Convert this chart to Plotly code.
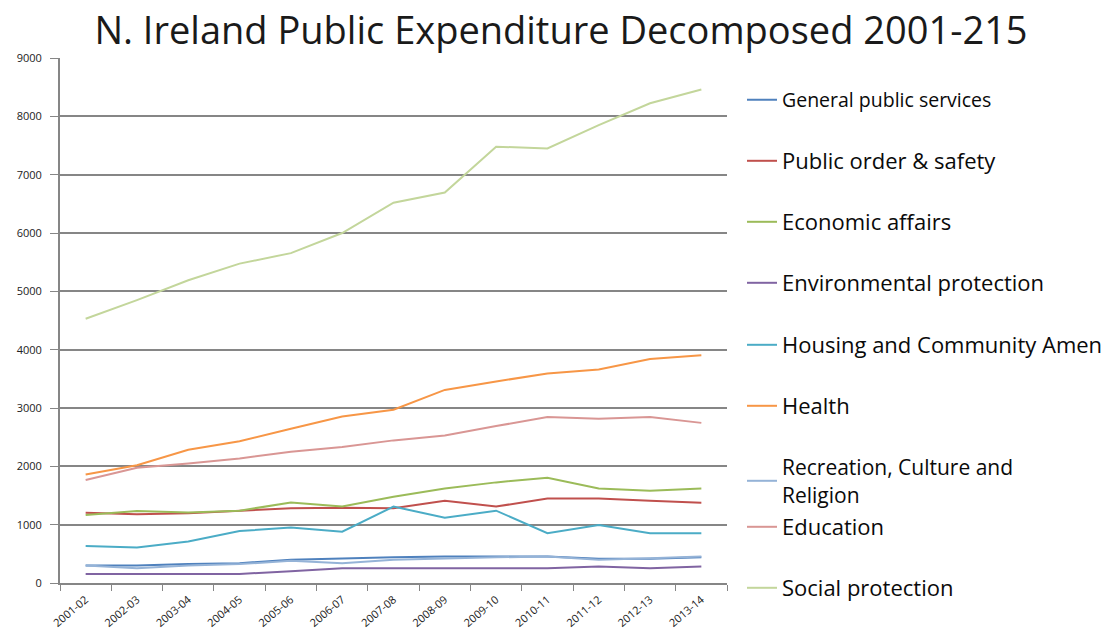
import plotly.graph_objects as go

years = ["2001-02", "2002-03", "2003-04", "2004-05", "2005-06", "2006-07", "2007-08",
         "2008-09", "2009-10", "2010-11", "2011-12", "2012-13", "2013-14"]

general_public = [300, 300, 325, 340, 400, 425, 440, 455, 455, 455, 415, 415, 440]
public_order = [1205, 1180, 1195, 1235, 1280, 1290, 1280, 1410, 1310, 1450, 1450, 1410, 1375]
economic = [1165, 1235, 1210, 1240, 1380, 1310, 1480, 1620, 1725, 1805, 1620, 1580, 1620]
environmental = [155, 155, 155, 155, 200, 255, 255, 255, 255, 255, 285, 255, 285]
housing = [635, 610, 710, 890, 950, 880, 1310, 1120, 1240, 855, 995, 855, 855]
health = [1860, 2020, 2285, 2430, 2645, 2855, 2970, 3310, 3455, 3590, 3660, 3840, 3905]
recreation = [300, 255, 300, 325, 380, 340, 400, 425, 440, 455, 400, 425, 455]
education = [1765, 1975, 2050, 2135, 2250, 2330, 2445, 2530, 2690, 2845, 2815, 2845, 2745]
social = [4530, 4850, 5190, 5475, 5655, 6000, 6520, 6695, 7480, 7450, 7850, 8225, 8460]

names = ["General public services", "Public order & safety", "Economic affairs",
         "Environmental protection", "Housing and Community Amen", "Health",
         "Recreation, Culture and<br>Religion", "Education", "Social protection"]
series = [general_public, public_order, economic, environmental, housing, health,
          recreation, education, social]
colors = ["#4F81BD", "#C0504D", "#9BBB59", "#8064A2", "#4BACC6", "#F79646",
          "#95B3D7", "#D99694", "#C3D69B"]
legend_y_px = [100, 161, 222, 283, 345, 406, 481, 527, 588]
legend_sizes = [19.5, 22, 22, 22, 22, 22, 21, 22, 22]

fig = go.Figure()
layout_legends = {}
for i, (nm, vals, col) in enumerate(zip(names, series, colors)):
    lg = "legend" if i == 0 else f"legend{i+1}"
    fig.add_trace(go.Scatter(x=years, y=vals, mode="lines", name=nm,
                             line=dict(color=col, width=2), legend=lg))
    layout_legends[lg] = dict(
        xref="container", yref="container",
        x=742 / 1110, y=1 - legend_y_px[i] / 637,
        xanchor="left", yanchor="middle",
        bgcolor="rgba(0,0,0,0)", borderwidth=0,
        font=dict(family="Open Sans", size=legend_sizes[i], color="#0a0a0a"),
        itemwidth=30,
    )

fig.update_layout(
    width=1110, height=637,
    margin=dict(l=60, r=383, t=58, b=54),
    paper_bgcolor="white", plot_bgcolor="white",
    showlegend=True,
    title=dict(text="N. Ireland Public Expenditure Decomposed 2001-215",
               x=561 / 1110, xanchor="center", xref="container",
               y=1 - 31 / 637, yanchor="middle", yref="container",
               font=dict(family="Open Sans", size=38, color="#1a1a1a")),
    **layout_legends,
)

fig.update_xaxes(
    type="category", range=[-0.5, 12.5], tickson="boundaries", ticks="outside", ticklen=6,
    tickcolor="#868686", showline=True, linecolor="#868686", linewidth=2,
    showgrid=False, tickangle=-40, ticklabelstandoff=4, automargin=False,
    tickfont=dict(family="Open Sans", size=11, color="#222222"),
)
fig.update_yaxes(
    range=[0, 9000], dtick=1000, ticks="outside", ticklen=8,
    tickcolor="#868686", showline=True, linecolor="#868686", linewidth=2,
    showgrid=True, gridcolor="#868686", gridwidth=1.5, zeroline=False,
    ticklabelstandoff=6, automargin=False,
    tickfont=dict(family="Open Sans", size=11, color="#222222"),
)

fig.write_html("out.html")
